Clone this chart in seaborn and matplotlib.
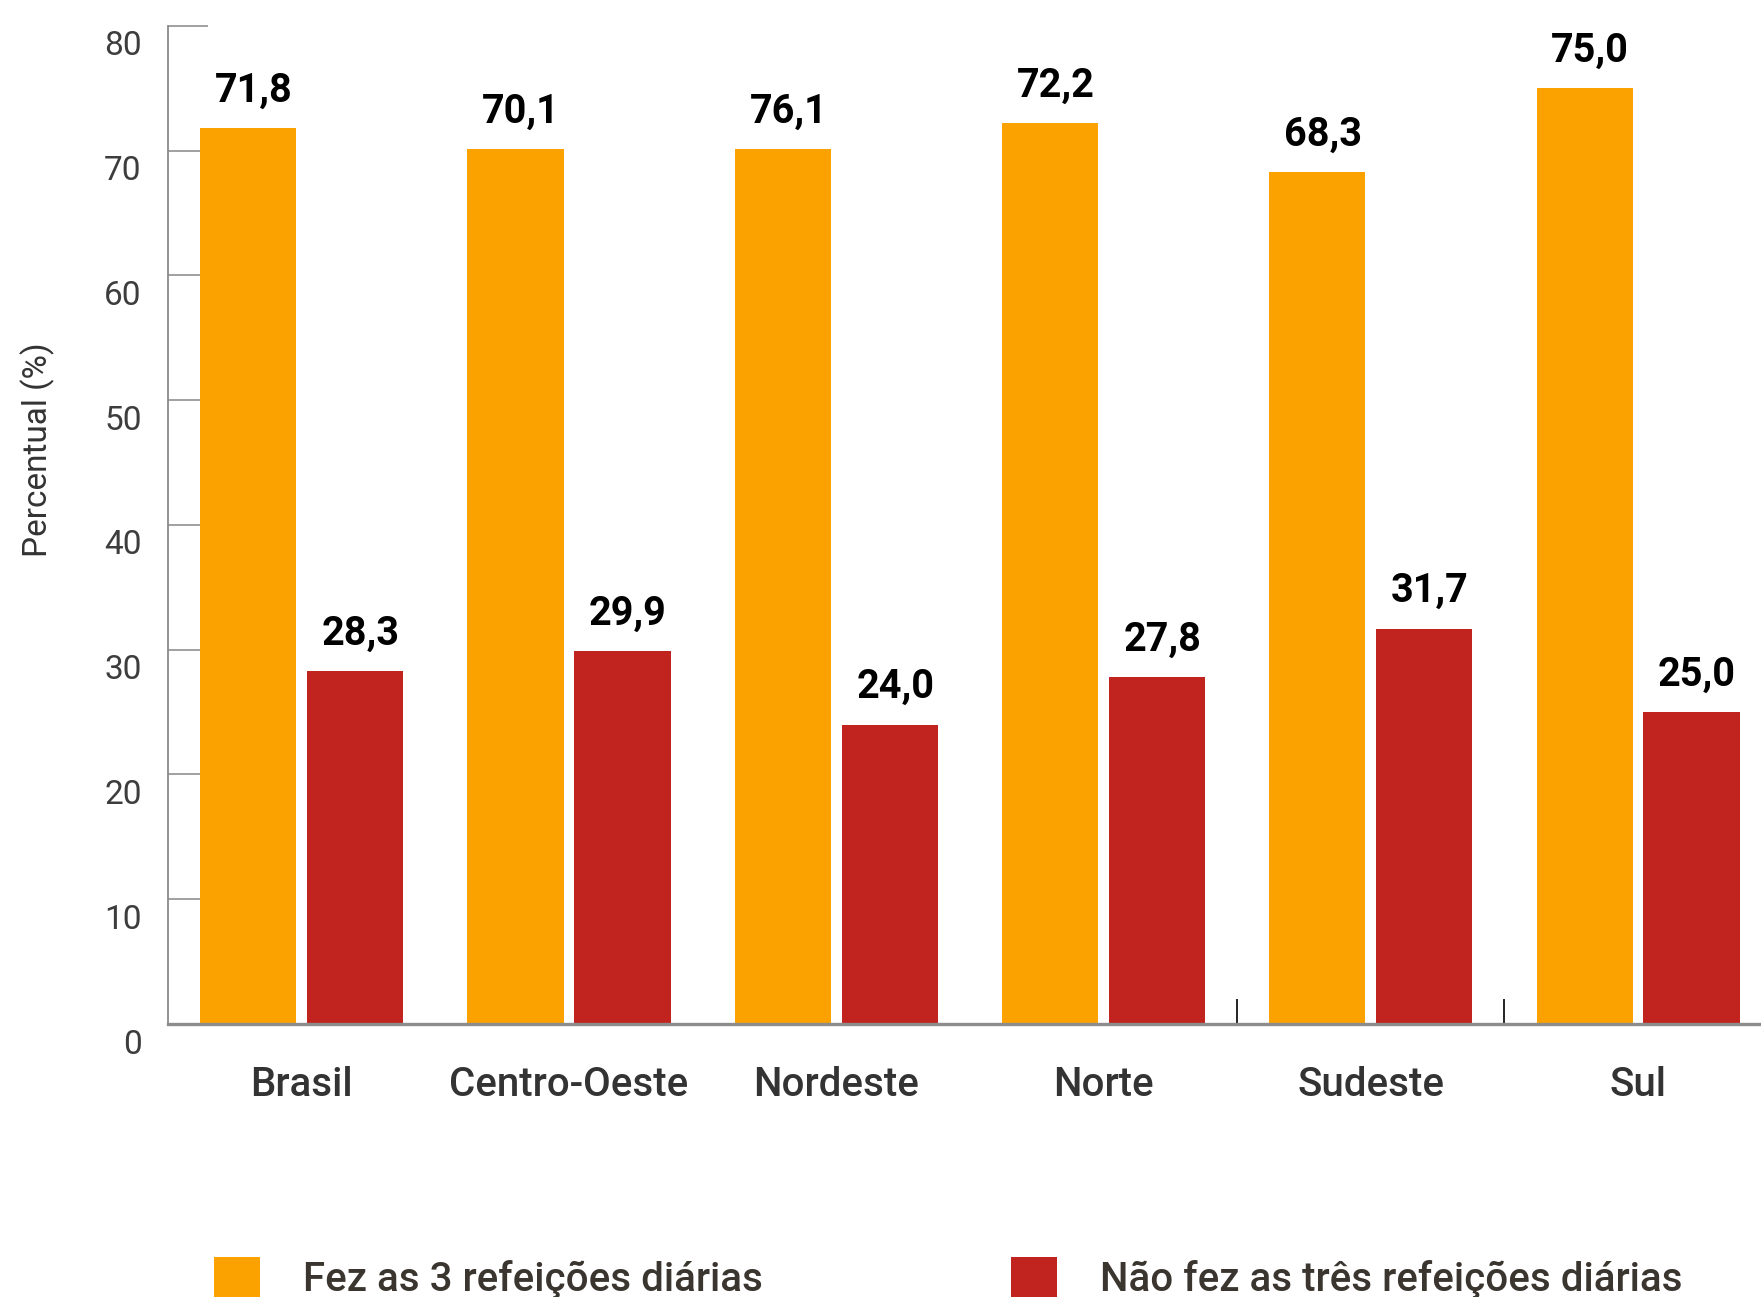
import seaborn as sns
import pandas as pd
import matplotlib.pyplot as plt
import matplotlib.transforms as mtransforms
from matplotlib.patches import Patch

regioes = ['Brasil', 'Centro-Oeste', 'Nordeste', 'Norte', 'Sudeste', 'Sul']
series = ['Fez as 3 refeições diárias', 'Não fez as três refeições diárias']
fez = [71.8, 70.1, 70.1, 72.2, 68.3, 75.0]
nao_fez = [28.3, 29.9, 24.0, 27.8, 31.7, 25.0]
rotulos_fez = ['71,8', '70,1', '76,1', '72,2', '68,3', '75,0']
rotulos_nao_fez = ['28,3', '29,9', '24,0', '27,8', '31,7', '25,0']
yticks = [0, 10, 20, 30, 40, 50, 60, 70, 80]
yticks_pretos = [60, 70, 80]

cores = ['#FCA200', '#C1241E']

df = pd.DataFrame({
    'regiao': regioes * 2,
    'valor': fez + nao_fez,
    'grupo': [series[0]] * len(regioes) + [series[1]] * len(regioes),
})

sns.set_style('white')
plt.rcParams['font.family'] = ['Roboto', 'DejaVu Sans']

fig = plt.figure(figsize=(17.61, 12.97), dpi=100)
ax = fig.add_axes([168 / 1761, 1 - 1024 / 1297, 0.9107, 0.7695])

sns.barplot(data=df, x='regiao', y='valor', hue='grupo', palette=cores,
            saturation=1, width=0.8, gap=0.1, linewidth=0, legend=False, ax=ax)

ax.set_ylim(0, 80)
ax.set_xlim(-0.5, len(regioes) - 0.5)
ax.set_axisbelow(True)

for cont, rot in zip(ax.containers, [rotulos_fez, rotulos_nao_fez]):
    for barra, txt in zip(cont, rot):
        ax.annotate(txt, (barra.get_x() + barra.get_width() / 2, barra.get_height()),
                    xytext=(4, 19), textcoords='offset points',
                    ha='center', va='baseline', fontsize=28.5, fontweight='bold',
                    color='black')

# eixos
for s in ['top', 'right']:
    ax.spines[s].set_visible(False)
ax.spines['left'].set_color('#8a8a8a')
ax.spines['left'].set_linewidth(1.3)
ax.spines['bottom'].set_color('#8c8c8c')
ax.spines['bottom'].set_linewidth(2.4)

ax.set_yticks(yticks)
ax.tick_params(axis='y', which='major', left=True, direction='in', length=29,
               width=1.4, pad=19, labelsize=24, labelcolor='#3d3d3d',
               color='#a0a0a0')
# ticks de 60 a 80 em preto (por cima dos cinzas)
ax.set_yticks(yticks_pretos, minor=True)
ax.tick_params(axis='y', which='minor', left=True, direction='in', length=29,
               width=1.5, color='black', labelleft=False)

ax.tick_params(axis='x', which='major', bottom=False, length=0, pad=30,
               labelsize=29, labelcolor='#333333')
for lab in ax.get_xticklabels():
    lab.set_fontweight('medium')
ax.set_xticks([3.5, 4.5], minor=True)
ax.tick_params(axis='x', which='minor', bottom=True, direction='in', length=18,
               width=1.2, color='black')

ax.set_xlabel('')
ax.set_ylabel('Percentual (%)', fontsize=24, color='#333333')
ax.yaxis.set_label_coords(-0.0705, 0.575)

desloc = mtransforms.ScaledTranslation(0, -17 / 100, fig.dpi_scale_trans)
for lab in ax.get_yticklabels():
    lab.set_transform(lab.get_transform() + desloc)

fs_px = 29 * 100 / 72
handles = [Patch(facecolor=c, edgecolor='none') for c in cores]
fig.legend(handles, series, loc='upper left',
           bbox_to_anchor=(214 / 1761, 1 - 1257 / 1297),
           ncol=2, frameon=False, labelcolor='#3b352f',
           prop={'size': 29, 'weight': 'medium'},
           borderaxespad=0, borderpad=0,
           handlelength=46 / fs_px, handleheight=46 / fs_px,
           handletextpad=43 / fs_px, columnspacing=248 / fs_px)

fig.savefig('out.png', dpi=100)
plt.close()
